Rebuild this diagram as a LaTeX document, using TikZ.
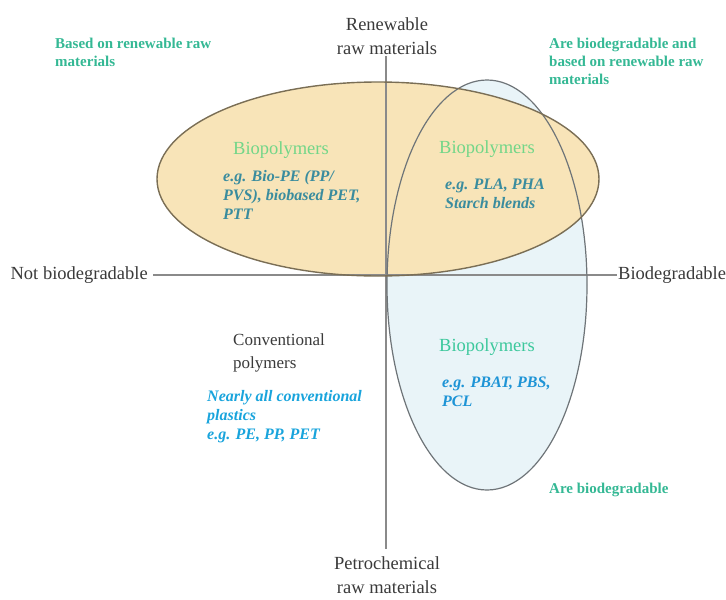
\documentclass[tikz,border=0pt]{standalone}
\usepackage{fontspec}
\setmainfont{Liberation Serif}
\definecolor{axisgray}{HTML}{8A8A8A}
\definecolor{txtgray}{HTML}{3A3A3A}
\definecolor{teal1}{HTML}{34B894}
\definecolor{biogreen}{HTML}{72D688}
\definecolor{biogreen2}{HTML}{3CC89C}
\definecolor{egteal}{HTML}{3A8C9E}
\definecolor{egblue}{HTML}{1E94D6}
\definecolor{orfill}{HTML}{F8E4B8}
\definecolor{blfill}{HTML}{E9F4F8}
\definecolor{orline}{HTML}{7A6E55}
\definecolor{blline}{HTML}{6E7478}
\tikzset{
  axislabel/.style={font=\fontsize{18.5}{24}\selectfont, text=txtgray, align=center, inner sep=0pt},
  note/.style={font=\fontsize{15}{18}\selectfont\bfseries, text=teal1, align=left, inner sep=0pt, anchor=north west},
  bio/.style={font=\fontsize{18.5}{20}\selectfont, text=biogreen, inner sep=0pt},
  egt/.style={font=\fontsize{16}{19}\selectfont\bfseries\itshape, text=egteal, align=left, inner sep=0pt, anchor=north west},
  egb/.style={font=\fontsize{16}{19}\selectfont\bfseries\itshape, text=egblue, align=left, inner sep=0pt, anchor=north west},
  axisline/.style={draw=axisgray, line width=1.1pt},
}
\begin{document}
\begin{tikzpicture}[x=1pt,y=-1pt]
\useasboundingbox (0,0) rectangle (726,600);
% ellipses fills
\fill[blfill] (487,285) ellipse [x radius=100, y radius=205];
\fill[orfill] (378,179) ellipse [x radius=221, y radius=97];
% axes
\coordinate (vtop) at (386,56);
\coordinate (vbot) at (386,549);
\coordinate (hl) at (153,275);
\coordinate (hr) at (617,275);
\draw[axisline] (vtop) -- (vbot);
\draw[axisline] (hl) -- (hr);
% outlines
\draw[blline, line width=1.2pt] (487,285) ellipse [x radius=100, y radius=205];
\draw[orline, line width=1.4pt] (378,179) ellipse [x radius=221, y radius=97];
% axis labels
\node[axislabel, anchor=south] (ren) at (387,55) {Renewable\\raw materials};
\node[axislabel, anchor=north] (pet) at (387,556) {Petrochemical\\raw materials};
\node[axislabel, anchor=east] (notbio) at (148,275) {Not biodegradable};
\node[axislabel, anchor=west] (bio) at (618,275) {Biodegradable};
% notes
\node[note] (n1) at (55,38) {Based on renewable raw\\materials};
\node[note] (n2) at (549,38) {Are biodegradable and\\based on renewable raw\\materials};
\node[note] (n3) at (549,483) {Are biodegradable};
% biopolymers
\node[bio] (b1) at (281,150) {Biopolymers};
\node[bio] (b2) at (487,149) {Biopolymers};
\node[bio, text=biogreen2] (b3) at (487,347) {Biopolymers};
\node[egt] (e1) at (223,170) {e.g. Bio-PE (PP/\\PVS), biobased PET,\\PTT};
\node[egt] (e2) at (445,179) {e.g. PLA, PHA\\Starch blends};
\node[egb] (e3) at (442,377) {e.g. PBAT, PBS,\\PCL};
% conventional
\node[axislabel, font=\fontsize{17}{23}\selectfont, align=left, anchor=north west] (conv) at (233,333) {Conventional\\polymers};
\node[egb, text=egblue!85!cyan] (e4) at (207,390) {Nearly all conventional\\plastics\\e.g. PE, PP, PET};
\end{tikzpicture}
\end{document}
